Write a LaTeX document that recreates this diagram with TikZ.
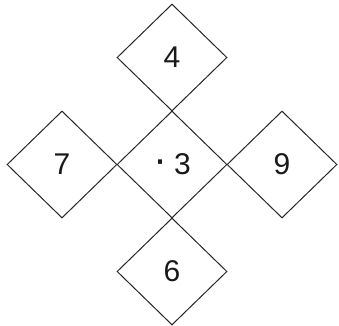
\documentclass[tikz,border=0pt]{standalone}
\usepackage{fontspec}
\setmainfont{Liberation Sans}
\usetikzlibrary{shapes.geometric}
\begin{document}
\begin{tikzpicture}[x=1pt,y=-1pt,
  cell/.style={draw=black!85, line width=1pt, shape=diamond, minimum width=110pt, minimum height=107pt, inner sep=0pt, font=\fontsize{30}{30}\selectfont, text=black!90}]
\useasboundingbox (0,0) rectangle (339,325);
\node[cell] (c) at (172,164.5) {\raisebox{1pt}{\fontsize{42}{42}\selectfont ·}\hspace{7pt}3};
\node[cell] (t) at (172,57.5) {4};
\node[cell] (b) at (172,271.5) {6};
\node[cell] (l) at (62,164.5) {7};
\node[cell] (r) at (282,164.5) {9};
\end{tikzpicture}
\end{document}
